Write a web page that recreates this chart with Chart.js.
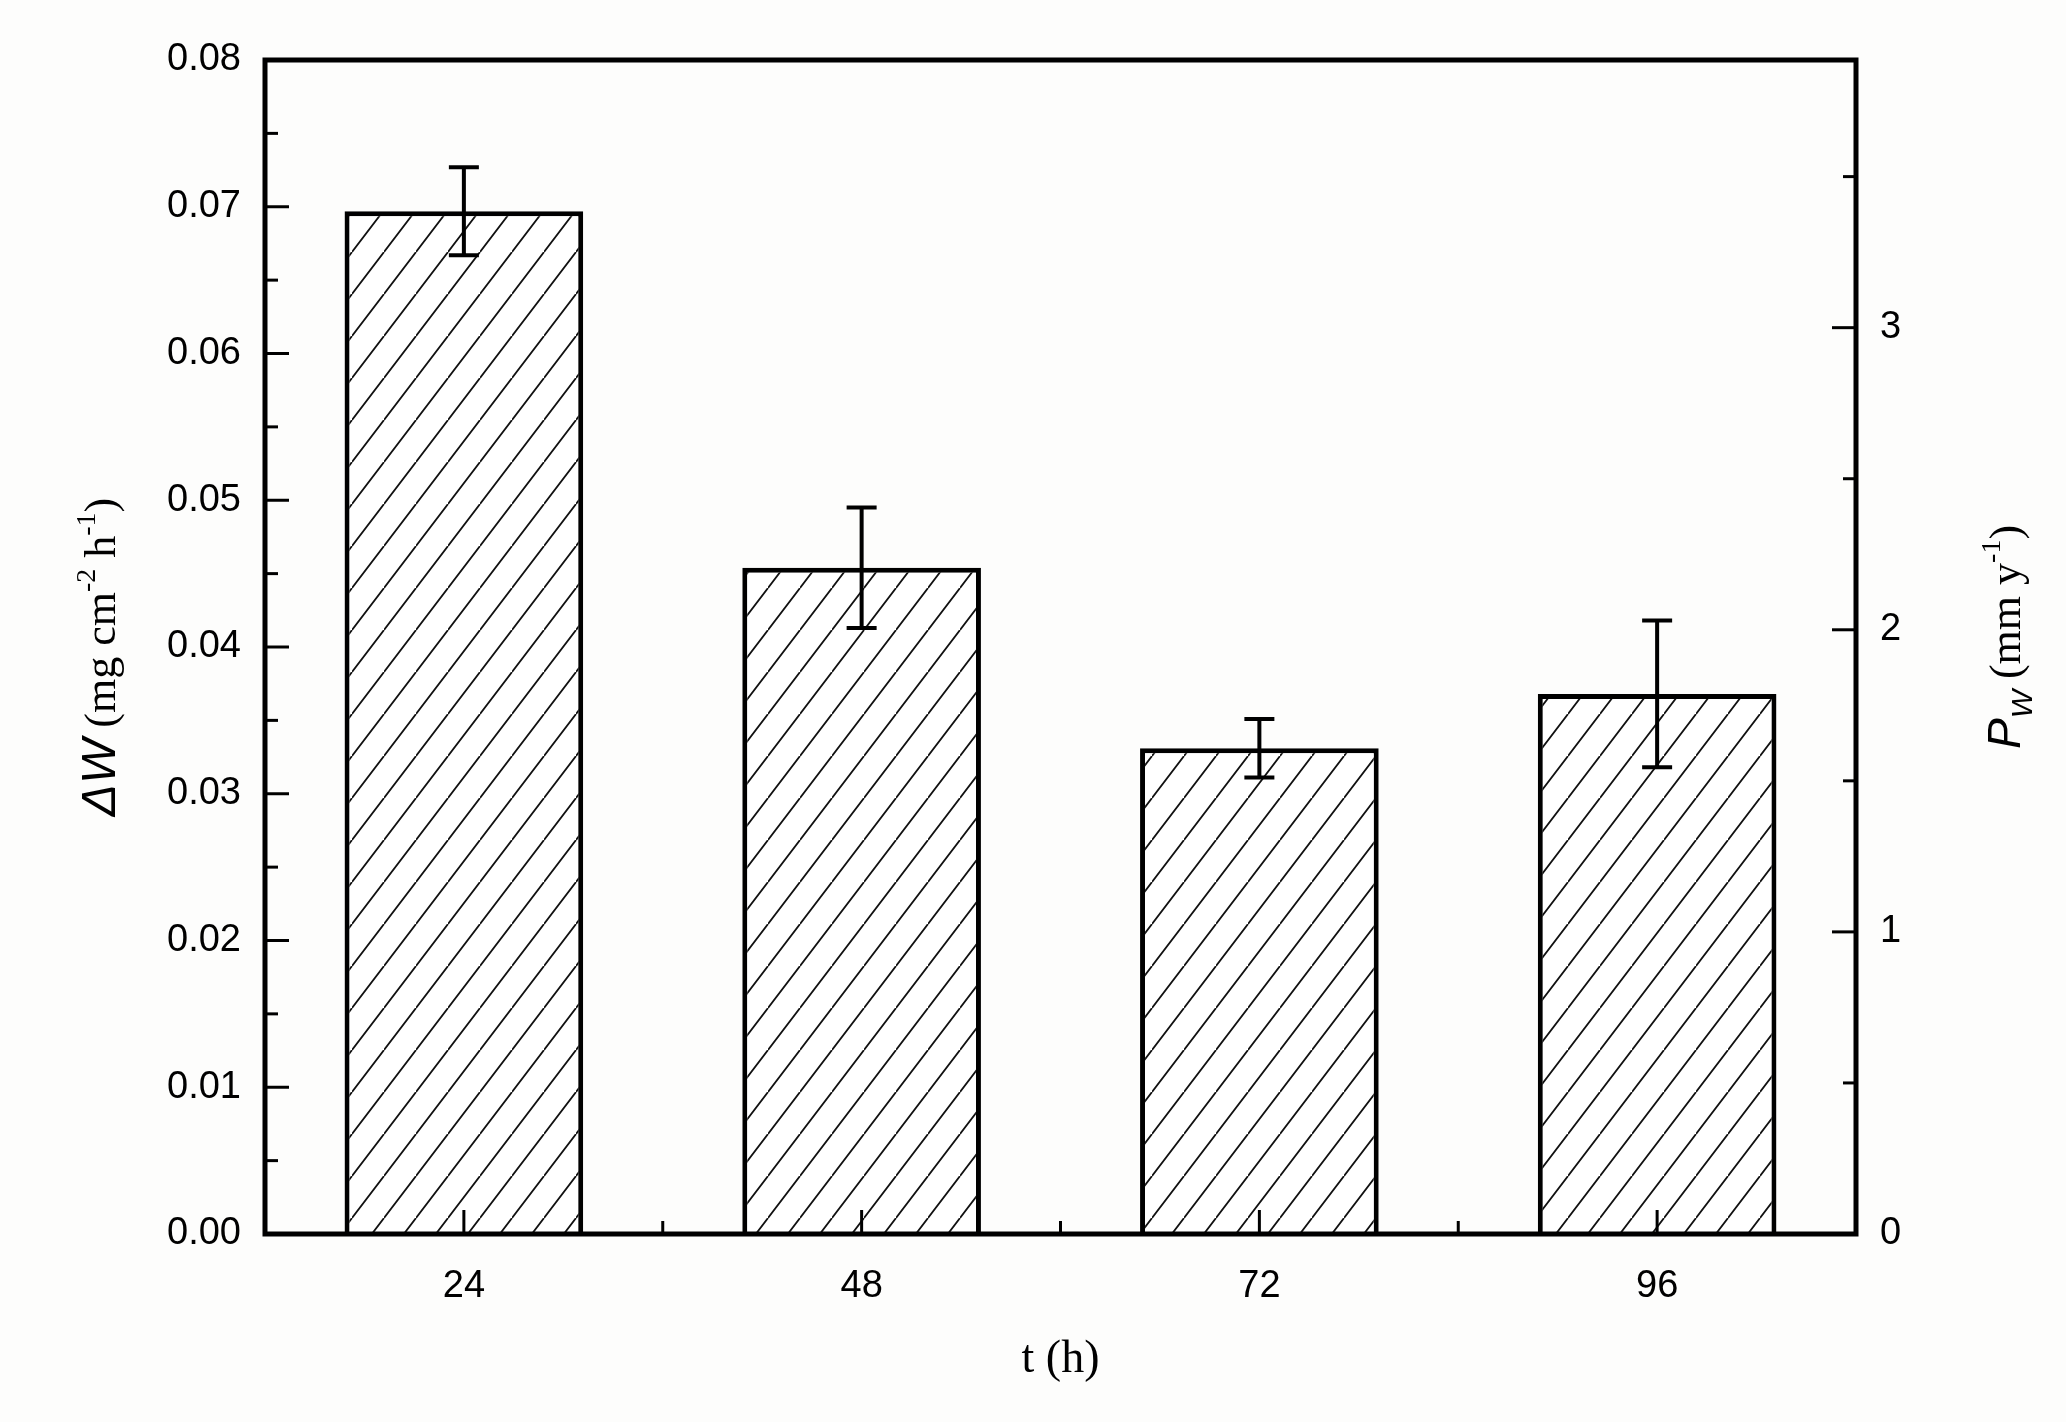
<!DOCTYPE html>
<html>
<head>
<meta charset="utf-8">
<script src="https://cdn.jsdelivr.net/npm/chart.js@4.4.0/dist/chart.umd.min.js"></script>
<style>
  body { margin: 0; background: #fdfdfc; }
  #chart { display: block; }
</style>
</head>
<body>
<canvas id="chart" width="2066" height="1422"></canvas>
<script>
const categories = ['24', '48', '72', '96'];
const weightLoss = [0.0697, 0.0454, 0.0331, 0.0368];
const weightErr = [0.0030, 0.0041, 0.0020, 0.0050];
const leftMax = 0.08;
const rightMax = 3.886;
const rightTicks = [0, 1, 2, 3];

const ctx = document.getElementById('chart').getContext('2d');

function hatchPattern() {
    const w = 32, h = 42;
    const c = document.createElement('canvas');
    c.width = w; c.height = h;
    const g = c.getContext('2d');
    g.fillStyle = '#ffffff';
    g.fillRect(0, 0, w, h);
    g.strokeStyle = '#111';
    g.lineWidth = 1.8;
    g.beginPath();
    g.moveTo(0, h); g.lineTo(w, 0);
    g.moveTo(-w, h); g.lineTo(w * 0, 0);
    g.moveTo(w, h * 2); g.lineTo(w * 2, 0);
    g.moveTo(-w / 2, h * 1.5); g.lineTo(w * 1.5, -h * 0.5);
    g.stroke();
    return ctx.createPattern(c, 'repeat');
}

const decorPlugin = {
    id: 'decor',
    afterDatasetsDraw(chart) {
        const c = chart.ctx;
        const a = chart.chartArea;
        const y = chart.scales.y;
        const x = chart.scales.x;
        c.save();
        c.strokeStyle = '#000';
        c.lineCap = 'butt';
        // error bars
        c.lineWidth = 4;
        weightLoss.forEach((v, i) => {
            const px = x.getPixelForValue(i);
            const top = y.getPixelForValue(v + weightErr[i]);
            const bot = y.getPixelForValue(v - weightErr[i]);
            c.beginPath();
            c.moveTo(px, top); c.lineTo(px, bot);
            c.moveTo(px - 15, top); c.lineTo(px + 15, top);
            c.moveTo(px - 15, bot); c.lineTo(px + 15, bot);
            c.stroke();
        });
        // left ticks inward
        c.lineWidth = 3;
        for (let k = 0; k <= 16; k++) {
            const py = y.getPixelForValue(k * 0.005);
            const len = k % 2 === 0 ? 24 : 13;
            c.beginPath(); c.moveTo(a.left, py); c.lineTo(a.left + len, py); c.stroke();
        }
        // right ticks inward
        const r = chart.scales.y2;
        for (let k = 0; k <= 7; k++) {
            const py = r.getPixelForValue(k * 0.5);
            const len = k % 2 === 0 ? 24 : 13;
            c.beginPath(); c.moveTo(a.right, py); c.lineTo(a.right - len, py); c.stroke();
        }
        // x ticks inward
        for (let i = 0; i < categories.length; i++) {
            const px = x.getPixelForValue(i);
            c.beginPath(); c.moveTo(px, a.bottom); c.lineTo(px, a.bottom - 24); c.stroke();
            if (i > 0) {
                const mx = (px + x.getPixelForValue(i - 1)) / 2;
                c.beginPath(); c.moveTo(mx, a.bottom); c.lineTo(mx, a.bottom - 13); c.stroke();
            }
        }
        // frame
        c.lineWidth = 5;
        c.strokeRect(a.left, a.top, a.right - a.left, a.bottom - a.top);
        // axis titles
        c.fillStyle = '#000';
        c.textBaseline = 'alphabetic';
        c.textAlign = 'center';
        c.font = '46px "Liberation Serif"';
        c.fillText('t (h)', (a.left + a.right) / 2, 1372);

        // left title
        c.save();
        c.translate(115, (a.top + a.bottom) / 2 + 10);
        c.rotate(-Math.PI / 2);
        c.textAlign = 'left';
        const parts = [
            ['italic 48px "Liberation Sans"', 'ΔW', 0],
            ['44px "Liberation Serif"', ' (mg cm', 0],
            ['28px "Liberation Serif"', '-2', -20],
            ['44px "Liberation Serif"', ' h', 0],
            ['28px "Liberation Serif"', '-1', -20],
            ['44px "Liberation Serif"', ')', 0]
        ];
        let total = 0;
        parts.forEach(p => { c.font = p[0]; total += c.measureText(p[1]).width; });
        let cx = -total / 2;
        parts.forEach(p => { c.font = p[0]; c.fillText(p[1], cx, p[2]); cx += c.measureText(p[1]).width; });
        c.restore();

        // right title
        c.save();
        c.translate(2020, (a.top + a.bottom) / 2 - 10);
        c.rotate(-Math.PI / 2);
        c.textAlign = 'left';
        const rparts = [
            ['italic 46px "Liberation Sans"', 'P', 0],
            ['italic 30px "Liberation Sans"', 'W', 12],
            ['44px "Liberation Serif"', ' (mm y', 0],
            ['28px "Liberation Serif"', '-1', -20],
            ['44px "Liberation Serif"', ')', 0]
        ];
        total = 0;
        rparts.forEach(p => { c.font = p[0]; total += c.measureText(p[1]).width; });
        cx = -total / 2;
        rparts.forEach(p => { c.font = p[0]; c.fillText(p[1], cx, p[2]); cx += c.measureText(p[1]).width; });
        c.restore();
        c.restore();
    }
};

const tickFont = { family: '"Liberation Sans", Arial', size: 38 };

new Chart(ctx, {
    type: 'bar',
    data: {
        labels: categories,
        datasets: [{
            data: weightLoss,
            backgroundColor: hatchPattern(),
            borderColor: '#000',
            borderWidth: 5,
            borderSkipped: 'bottom',
            categoryPercentage: 0.6,
            barPercentage: 1.0,
            yAxisID: 'y'
        }]
    },
    options: {
        responsive: false,
        animation: false,
        devicePixelRatio: 1,
        layout: { padding: { top: 60, left: 0, right: 0, bottom: 0 } },
        plugins: { legend: { display: false }, tooltip: { enabled: false } },
        scales: {
            x: {
                grid: { display: false, drawTicks: false },
                border: { display: false },
                ticks: { color: '#000', font: tickFont, padding: 30 },
                afterFit: s => { s.height = 188; }
            },
            y: {
                position: 'left',
                min: 0, max: leftMax,
                grid: { display: false, drawTicks: false },
                border: { display: false },
                ticks: { color: '#000', font: tickFont, padding: 24, stepSize: 0.01,
                    callback: v => v.toFixed(2) },
                afterFit: s => { s.width = 265; }
            },
            y2: {
                position: 'right',
                min: 0, max: rightMax,
                grid: { display: false, drawTicks: false },
                border: { display: false },
                afterBuildTicks: s => { s.ticks = rightTicks.map(v => ({ value: v })); },
                ticks: { color: '#000', font: tickFont, padding: 24 },
                afterFit: s => { s.width = 210; }
            }
        }
    },
    plugins: [decorPlugin]
});
</script>
</body>
</html>
